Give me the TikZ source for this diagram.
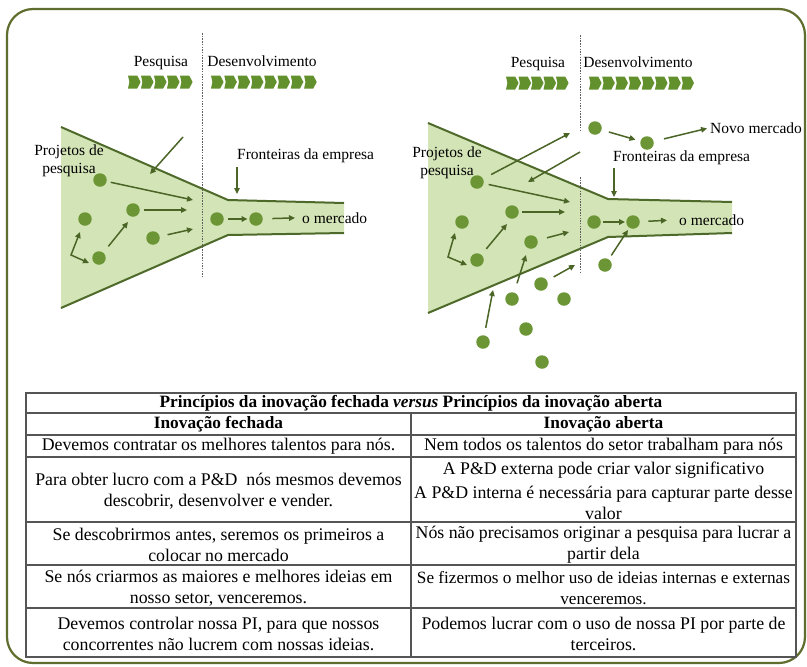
\documentclass[tikz,border=0pt]{standalone}
\usepackage{fontspec}
\setmainfont{Liberation Serif}
\usetikzlibrary{arrows.meta}

\definecolor{frameol}{HTML}{5F6E2E}
\definecolor{funfill}{HTML}{D3E4B6}
\definecolor{funline}{HTML}{4E6A2A}
\definecolor{arrowc}{HTML}{4A6526}
\definecolor{dotc}{HTML}{6C9636}
\definecolor{chevc}{HTML}{62902C}
\definecolor{rulec}{HTML}{555555}

\tikzset{
  lbl/.style={inner sep=0pt, font=\fontsize{15.5}{17.8}\selectfont},
  gdot/.style={circle, fill=dotc, inner sep=0pt, minimum size=13.5pt},
  arr/.style={draw=arrowc, line width=1.5pt, -{Triangle[length=6pt,width=5.5pt]}},
  arrb/.style={arr, {Triangle[length=6pt,width=5.5pt]}-{Triangle[length=6pt,width=5.5pt]}},
  funedge/.style={draw=funline, line width=2pt},
  divider/.style={draw=gray!75!black, line width=0.8pt, dash pattern=on 1.5pt off 1.2pt},
  tabcell/.style={inner sep=0pt, align=center, font=\fontsize{17.8}{21.3}\selectfont},
  tabhead/.style={inner sep=0pt, align=center, font=\fontsize{17.3}{21}\selectfont\bfseries},
  tabrule/.style={draw=rulec, line width=1.1pt},
  chev/.pic={\fill[chevc] (-6,-6.5) -- (3.2,-6.5) -- (6.6,0) -- (3.2,6.5) -- (-6,6.5) -- (-4.6,0) -- cycle;}
}

\begin{document}
\begin{tikzpicture}[x=1pt, y=-1pt]
\useasboundingbox (0,0) rectangle (807,667);
\fill[white] (0,0) rectangle (807,667);

% outer frame
\draw[frameol, line width=2.2pt, rounded corners=26pt] (7,9) rectangle (805,663);

% ---------------- closed innovation funnel ----------------
\fill[funfill] (61,127) -- (228,200) -- (344,203) -- (344,233) -- (228,235) -- (61,308) -- cycle;
\draw[funedge] (61,127) -- (228,200) -- (344,203);
\draw[funedge] (61,308) -- (228,235) -- (344,233);
\draw[divider] (202,33) -- (202,277);

\node[lbl, anchor=base] (lpq) at (161,66) {Pesquisa};
\node[lbl, anchor=base] (lds) at (262,66) {Desenvolvimento};
\foreach \i in {0,...,4} \pic at (134+13*\i,82) {chev};
\foreach \i in {0,...,7} \pic at (217+13.3*\i,82) {chev};

\node[lbl, align=center] (lpp) at (69,161) {Projetos de\\pesquisa};
\node[lbl, anchor=base west] (lfr) at (237,159) {Fronteiras da empresa};
\node[lbl, anchor=base west] (lmk) at (302,223) {o mercado};

\node[gdot] (ld1) at (100,180) {};
\node[gdot] (ld2) at (85,219) {};
\node[gdot] (ld3) at (133,210) {};
\node[gdot] (ld4) at (99,258) {};
\node[gdot] (ld5) at (153,238) {};
\node[gdot] (ld6) at (217,219) {};
\node[gdot] (ld7) at (256,219) {};

\coordinate (la1) at (193,200);
\coordinate (la2) at (187,210);
\coordinate (la3) at (193,229);
\coordinate (la4) at (128,222);
\coordinate (lb1) at (80,232);
\coordinate (lb2) at (71,255);
\coordinate (lb3) at (89,263);
\coordinate (lt1) at (183,137);
\coordinate (lt2) at (150,174);
\coordinate (lf1) at (237,167);
\coordinate (lf2) at (237,194);

\draw[arr, shorten <=4pt] (ld1) -- (la1);
\draw[arr, shorten <=4pt] (ld3) -- (la2);
\draw[arr, shorten <=8pt] (ld5) -- (la3);
\draw[arr, shorten <=8pt] (ld4) -- (la4);
\draw[arrb] (lb1) -- (lb2) -- (lb3);
\draw[arr] (lt1) -- (lt2);
\draw[arr] (lf1) -- (lf2);
\draw[arr, shorten <=4.5pt, shorten >=1.5pt] (ld6) -- (ld7);
\draw[arr, shorten <=9.5pt, shorten >=7pt] (ld7) -- (lmk.west);

% ---------------- open innovation funnel ----------------
\fill[funfill] (428,123) -- (608,199) -- (732,202) -- (732,233) -- (608,237) -- (428,313) -- cycle;
\draw[funedge] (428,123) -- (608,199) -- (732,202);
\draw[funedge] (428,313) -- (608,237) -- (732,233);
\draw[divider] (580,35) -- (580,132);
\draw[divider] (580,177) -- (580,273);

\node[lbl, anchor=base] (rpq) at (538,67) {Pesquisa};
\node[lbl, anchor=base] (rds) at (638,67) {Desenvolvimento};
\foreach \i in {0,...,4} \pic at (512+12.5*\i,83) {chev};
\foreach \i in {0,...,7} \pic at (595+13.2*\i,83) {chev};

\node[lbl, align=center] (rpp) at (447,163) {Projetos de\\pesquisa};
\node[lbl, anchor=base west] (rnm) at (710,133) {Novo mercado};
\node[lbl, anchor=base west] (rfr) at (613,161) {Fronteiras da empresa};
\node[lbl, anchor=base west] (rmk) at (679,225) {o mercado};

\node[gdot] (rd1) at (477,182) {};
\node[gdot] (rd2) at (462,222) {};
\node[gdot] (rd3) at (512,212) {};
\node[gdot] (rd4) at (477,260) {};
\node[gdot] (rd5) at (531,242) {};
\node[gdot] (rd6) at (594,222) {};
\node[gdot] (rd7) at (633,222) {};
\node[gdot] (rd8) at (595,128) {};
\node[gdot] (rd9) at (647,143) {};
\node[gdot] (rd10) at (605,265) {};
\node[gdot] (rd11) at (541,284) {};
\node[gdot] (rd12) at (512,299) {};
\node[gdot] (rd13) at (564,299) {};
\node[gdot] (rd14) at (526,329) {};
\node[gdot] (rd15) at (483,342) {};
\node[gdot] (rd16) at (542,362) {};

\coordinate (ra1) at (570,133);
\coordinate (ra2) at (570,202);
\coordinate (ra3) at (565,212);
\coordinate (ra4) at (569,232);
\coordinate (ra5) at (507,224);
\coordinate (ra6) at (628,230);
\coordinate (ra7) at (526,255);
\coordinate (ra8) at (575,265);
\coordinate (ra9) at (493,290);
\coordinate (rt1) at (580,152);
\coordinate (rt2) at (528,182);
\coordinate (rb1) at (455,233);
\coordinate (rb2) at (448,257);
\coordinate (rb3) at (467,265);
\coordinate (rf1) at (614,168);
\coordinate (rf2) at (614,197);

\draw[arr, shorten <=9pt] (rd1) -- (ra1);
\draw[arr, shorten <=5pt] (rd1) -- (ra2);
\draw[arr] (rt1) -- (rt2);
\draw[arr, shorten <=3.5pt] (rd3) -- (ra3);
\draw[arr, shorten <=9.5pt] (rd5) -- (ra4);
\draw[arr, shorten <=7.5pt] (rd4) -- (ra5);
\draw[arrb] (rb1) -- (rb2) -- (rb3);
\draw[arr, shorten <=7.5pt, shorten >=5pt] (rd8) -- (rd9);
\draw[arr, shorten <=10.5pt, shorten >=3pt] (rd9) -- (rnm.west);
\draw[arr] (rf1) -- (rf2);
\draw[arr, shorten <=2.5pt, shorten >=1pt] (rd6) -- (rd7);
\draw[arr, shorten <=8.5pt, shorten >=12pt] (rd7) -- (rmk.west);
\draw[arr, shorten <=4.5pt] (rd10) -- (ra6);
\draw[arr, shorten <=9.5pt] (rd12) -- (ra7);
\draw[arr, shorten <=7.5pt] (rd11) -- (ra8);
\draw[arr, shorten <=7.5pt] (rd15) -- (ra9);

% ---------------- comparison table ----------------
\draw[tabrule] (26,393) rectangle (796,657);
\foreach \yy in {413,435,457,522,565,608} \draw[tabrule] (26,\yy) -- (796,\yy);
\draw[tabrule] (411,413) -- (411,657);

\node[tabhead] (ttl) at (411,403.5) {Princípios da inovação fechada \textit{versus} Princípios da inovação aberta};
\node[tabhead] (hcl) at (218.5,424.5) {Inovação fechada};
\node[tabhead] (hop) at (603.5,424.5) {Inovação aberta};

\node[tabcell] (c1l) at (218.5,446.5) {Devemos contratar os melhores talentos para nós.};
\node[tabcell] (c1r) at (603.5,446.5) {Nem todos os talentos do setor trabalham para nós};

\node[tabcell] (c2l) at (218.5,491) {Para obter lucro com a P\&D\ \ nós mesmos devemos\\descobrir, desenvolver e vender.};
\node[tabcell] (c2r) at (603.5,491) {A P\&D externa pode criar valor significativo\\[2.5pt]A P\&D interna é necessária para capturar parte desse\\valor};

\node[tabcell] (c3l) at (218.5,545) {Se descobrirmos antes, seremos os primeiros a\\colocar no mercado};
\node[tabcell] (c3r) at (603.5,545) {Nós não precisamos originar a pesquisa para lucrar a\\partir dela};

\node[tabcell] (c4l) at (218.5,588) {Se nós criarmos as maiores e melhores ideias em\\nosso setor, venceremos.};
\node[tabcell, font=\fontsize{17.2}{21.3}\selectfont] (c4r) at (603.5,588) {Se fizermos o melhor uso de ideias internas e externas\\venceremos.};

\node[tabcell] (c5l) at (218.5,634) {Devemos controlar nossa PI, para que nossos\\concorrentes não lucrem com nossas ideias.};
\node[tabcell] (c5r) at (603.5,634) {Podemos lucrar com o uso de nossa PI por parte de\\terceiros.};
\end{tikzpicture}
\end{document}
